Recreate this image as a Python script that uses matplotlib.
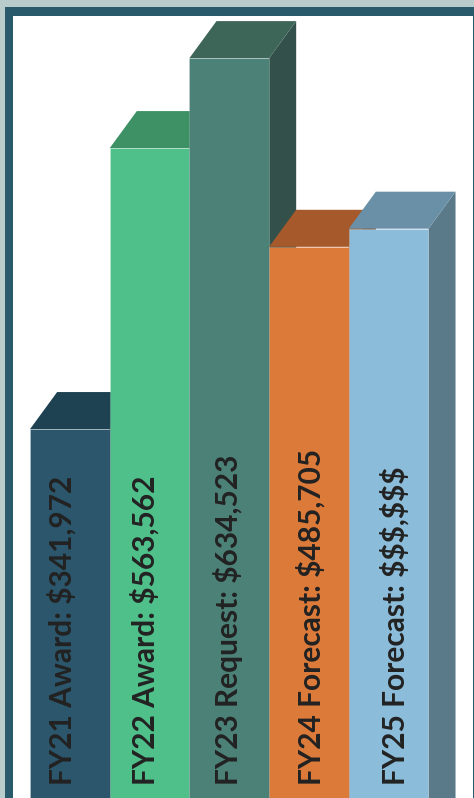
import numpy as np
import matplotlib.pyplot as plt
from matplotlib.patches import Polygon, Rectangle

# data
labels = ["FY21 Award: $341,972", "FY22 Award: $563,562", "FY23 Request: $634,523",
          "FY24 Forecast: $485,705", "FY25 Forecast: $$$,$$$"]
values = [341972, 563562, 634523, 485705, 500000]
front_colors = ["#2b566b", "#50c08a", "#4c8178", "#dc7a3a", "#8bbcd9"]
top_colors = ["#1f4252", "#3e9164", "#3d6558", "#a65a2b", "#6990a6"]
side_colors = ["#1b3a48", "#357a55", "#33514a", "#8a4a24", "#5a7a8a"]

W, H = 474, 798
fig = plt.figure(figsize=(W / 100, H / 100), dpi=100)
fig.patch.set_facecolor("#b8cccb")

# dark frame
fig.add_artist(Rectangle((5 / W, 0), 1, (H - 7) / H, transform=fig.transFigure,
                         facecolor="#285a6c", edgecolor="none", zorder=0))

ax = fig.add_axes([13 / W, 0, (472.5 - 13) / W, (H - 16) / H])
ax.set_facecolor("white")
ax.set_xlim(-0.214, 5.553)
ax.set_ylim(51000, 667750)
ax.set_xticks([])
ax.set_yticks([])
for s in ax.spines.values():
    s.set_visible(False)

dx = 0.34      # depth in bar units
dy = 29200     # depth in value units
base = 0

for i, (v, lab) in enumerate(zip(values, labels)):
    x0, x1 = i, i + 1
    # side face
    ax.add_patch(Polygon([(x1, base), (x1 + dx, base + dy), (x1 + dx, v + dy), (x1, v)],
                         closed=True, facecolor=side_colors[i], edgecolor="none", zorder=2 + i))
    # top face
    ax.add_patch(Polygon([(x0, v), (x0 + dx, v + dy), (x1 + dx, v + dy), (x1, v)],
                         closed=True, facecolor=top_colors[i], edgecolor="none", zorder=2 + i))
    # front face
    ax.bar(x0, v, width=1, align="edge", color=front_colors[i],
           edgecolor=(1, 1, 1, 0.2), linewidth=0.6, zorder=2 + i)
    ax.text(x0 + 0.52 + i * 0.044, 61000, lab, rotation=90, rotation_mode="anchor",
            ha="left", va="baseline", fontsize=21.5, family="Lato", fontweight="bold",
            color="#222222", zorder=20, parse_math=False)

fig.savefig("out.png", dpi=100, facecolor=fig.get_facecolor())
